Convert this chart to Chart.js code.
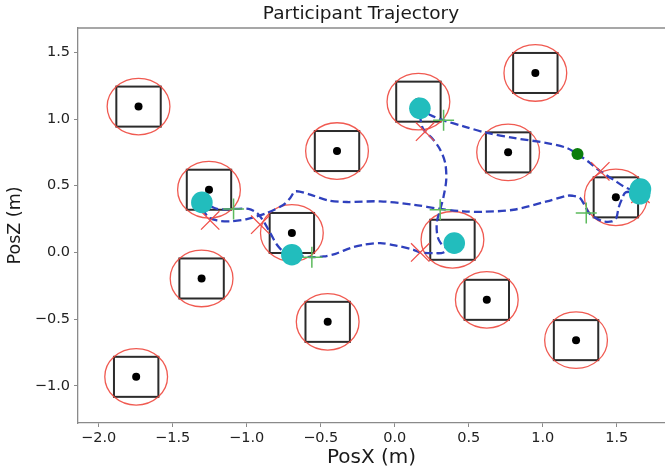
<!DOCTYPE html>
<html>
<head>
<meta charset="utf-8">
<title>Participant Trajectory</title>
<script src="https://cdn.jsdelivr.net/npm/chart.js@4.4.1/dist/chart.umd.min.js"></script>
<style>
  html, body { margin: 0; padding: 0; background: #fff; overflow: hidden; }
</style>
</head>
<body>
<canvas id="traj" width="665" height="473"></canvas>
<script>
// box centres (m)
const boxX = [-1.731, 0.95, 0.16, -0.39, 0.766, -1.255, -0.695, 0.39, 1.494, -1.305, -0.453, 0.622, 1.225, -1.747];
const boxY = [1.093, 1.345, 1.13, 0.76, 0.75, 0.47, 0.146, 0.095, 0.413, -0.195, -0.52, -0.355, -0.657, -0.932];

// walked path, starting at the green start point
const pathX = [1.235, 1.32, 1.389, 1.478, 1.546, 1.60, 1.655,
  1.56, 1.535, 1.512, 1.497, 1.467, 1.41, 1.355, 1.31, 1.28, 1.25, 1.20, 1.163, 1.028, 0.803, 0.60, 0.465, 0.307, 0.127, -0.098, -0.323, -0.45, -0.571, -0.672, -0.706, -0.751, -0.864, -0.999, -1.111, -1.201, -1.269, -1.303,
  -1.201, -1.089, -0.988, -0.931, -0.886, -0.841, -0.796, -0.74, -0.695,
  -0.62, -0.56, -0.481, -0.40, -0.30, -0.21, -0.098, 0.015, 0.127, 0.172, 0.262, 0.33, 0.402,
  0.34, 0.30, 0.285, 0.285, 0.307, 0.33, 0.348, 0.341, 0.307, 0.251, 0.205, 0.184, 0.17,
  0.24, 0.33, 0.465, 0.623, 0.803, 1.028, 1.163, 1.235];
const pathY = [0.738, 0.67, 0.608, 0.545, 0.495, 0.47, 0.455,
  0.45, 0.40, 0.333, 0.258, 0.233, 0.233, 0.26, 0.30, 0.36, 0.41, 0.425, 0.425, 0.383, 0.32, 0.305, 0.308, 0.326, 0.358, 0.383, 0.378, 0.39, 0.433, 0.458, 0.408, 0.358, 0.296, 0.25, 0.233, 0.24, 0.275, 0.375,
  0.326, 0.326, 0.326, 0.296, 0.233, 0.146, 0.058, -0.005, -0.017,
  -0.03, -0.035, -0.03, -0.01, 0.033, 0.058, 0.07, 0.05, 0.02, 0.0, -0.005, 0.0, 0.07,
  0.04, 0.09, 0.15, 0.233, 0.32, 0.42, 0.545, 0.67, 0.77, 0.858, 0.905, 0.945, 1.08,
  1.03, 0.99, 0.945, 0.896, 0.858, 0.82, 0.783, 0.738];

// ring entries (red x) and exits (green +)
const enterX = [1.389, -1.247, -0.909, 0.172, 0.205, 1.66];
const enterY = [0.608, 0.24, 0.208, 0.0, 0.905, 0.44];
const exitX = [1.294, -1.089, -0.56, 0.307, 0.33];
const exitY = [0.296, 0.326, -0.035, 0.32, 0.99];

// touch points
const touchX = [1.66, 1.655, -1.303, -0.695, 0.402, 0.17];
const touchY = [0.475, 0.44, 0.375, -0.017, 0.07, 1.08];

const startX = [1.235];
const startY = [0.738];

const xTicks = [-2.0, -1.5, -1.0, -0.5, 0.0, 0.5, 1.0, 1.5];
const yTicks = [-1.0, -0.5, 0.0, 0.5, 1.0, 1.5];

const BOX_HALF = 0.15;
const RING_R = 0.212;
const FONT = "'DejaVu Sans', sans-serif";

function pts(xs, ys) {
  return xs.map((x, i) => ({ x: x, y: ys[i] }));
}

function fmt(v) {
  return (v < 0 ? '\u2212' : '') + Math.abs(v).toFixed(1);
}

// boxes, rings, frame top and title
const boxesPlugin = {
  id: 'boxes',
  beforeDatasetsDraw(chart) {
    const ctx = chart.ctx;
    const sx = chart.scales.x, sy = chart.scales.y;
    const rx = Math.abs(sx.getPixelForValue(RING_R) - sx.getPixelForValue(0));
    const ry = Math.abs(sy.getPixelForValue(RING_R) - sy.getPixelForValue(0));
    ctx.save();
    for (let i = 0; i < boxX.length; i++) {
      const x0 = sx.getPixelForValue(boxX[i] - BOX_HALF);
      const x1 = sx.getPixelForValue(boxX[i] + BOX_HALF);
      const y0 = sy.getPixelForValue(boxY[i] + BOX_HALF);
      const y1 = sy.getPixelForValue(boxY[i] - BOX_HALF);
      ctx.strokeStyle = '#2b2b2b';
      ctx.lineWidth = 2;
      ctx.strokeRect(x0, y0, x1 - x0, y1 - y0);
      ctx.strokeStyle = 'rgba(238, 72, 62, 0.9)';
      ctx.lineWidth = 1.3;
      ctx.beginPath();
      ctx.ellipse(sx.getPixelForValue(boxX[i]), sy.getPixelForValue(boxY[i]), rx, ry, 0, 0, Math.PI * 2);
      ctx.stroke();
    }
    ctx.restore();
  },
  afterDraw(chart) {
    const ctx = chart.ctx;
    const a = chart.chartArea;
    ctx.save();
    ctx.strokeStyle = '#8a8a8a';
    ctx.lineWidth = 1.3;
    ctx.beginPath();
    ctx.moveTo(a.left, a.top);
    ctx.lineTo(a.right, a.top);
    ctx.stroke();
    ctx.fillStyle = '#1a1a1a';
    ctx.font = '18.5px ' + FONT;
    ctx.textAlign = 'center';
    ctx.textBaseline = 'middle';
    ctx.fillText('Participant Trajectory', 361, 14);
    ctx.restore();
  }
};

new Chart(document.getElementById('traj'), {
  type: 'scatter',
  data: {
    datasets: [
      {
        label: 'touch',
        data: pts(touchX, touchY),
        pointRadius: 10.8,
        pointBorderWidth: 0,
        backgroundColor: '#22bdbd',
        borderColor: '#22bdbd',
        order: 1
      },
      {
        label: 'start',
        data: pts(startX, startY),
        pointRadius: 6,
        pointBorderWidth: 0,
        backgroundColor: '#0b7d0b',
        borderColor: '#0b7d0b',
        order: 2
      },
      {
        label: 'exit',
        data: pts(exitX, exitY),
        pointStyle: 'cross',
        pointRadius: 10.5,
        borderWidth: 1.5,
        borderColor: '#5cba5c',
        order: 3
      },
      {
        label: 'enter',
        data: pts(enterX, enterY),
        pointStyle: 'crossRot',
        pointRadius: 13,
        borderWidth: 1.3,
        borderColor: '#f0504a',
        order: 4
      },
      {
        label: 'path',
        data: pts(pathX, pathY),
        showLine: true,
        pointRadius: 0,
        borderColor: '#2f40bd',
        borderWidth: 2.3,
        borderDash: [8, 4],
        tension: 0.3,
        fill: false,
        order: 5
      },
      {
        label: 'centre',
        data: pts(boxX, boxY),
        pointRadius: 4,
        pointBorderWidth: 0,
        backgroundColor: '#000',
        borderColor: '#000',
        order: 6
      }
    ]
  },
  options: {
    responsive: false,
    animation: false,
    layout: { autoPadding: false, padding: { top: 28, left: 0, right: 0, bottom: 0 } },
    plugins: {
      legend: { display: false },
      tooltip: { enabled: false },
      title: { display: false }
    },
    scales: {
      x: {
        type: 'linear',
        min: -2.14,
        max: 1.826,
        afterFit: s => { s.height = 50; s.paddingLeft = 0; s.paddingRight = 0; },
        afterBuildTicks: s => { s.ticks = xTicks.map(v => ({ value: v })); },
        ticks: {
          padding: 3,
          color: '#222',
          font: { family: FONT, size: 14.5 },
          callback: v => fmt(v)
        },
        grid: { drawOnChartArea: false, tickLength: 4, color: '#8a8a8a' },
        border: { color: '#8a8a8a', width: 1.3 },
        title: {
          display: true,
          text: 'PosX (m)',
          color: '#1a1a1a',
          font: { family: FONT, size: 20 },
          padding: { top: 0, bottom: 3 }
        }
      },
      y: {
        type: 'linear',
        min: -1.278,
        max: 1.682,
        afterFit: s => { s.width = 78; s.paddingTop = 0; s.paddingBottom = 0; },
        afterBuildTicks: s => { s.ticks = yTicks.map(v => ({ value: v })); },
        ticks: {
          padding: 4,
          color: '#222',
          font: { family: FONT, size: 14.5 },
          callback: v => fmt(v)
        },
        grid: { drawOnChartArea: false, tickLength: 4, color: '#8a8a8a' },
        border: { color: '#8a8a8a', width: 1.3 },
        title: {
          display: true,
          text: 'PosZ (m)',
          color: '#1a1a1a',
          font: { family: FONT, size: 17.5 },
          padding: { top: 5, bottom: 0 }
        }
      }
    }
  },
  plugins: [boxesPlugin]
});
</script>
</body>
</html>
